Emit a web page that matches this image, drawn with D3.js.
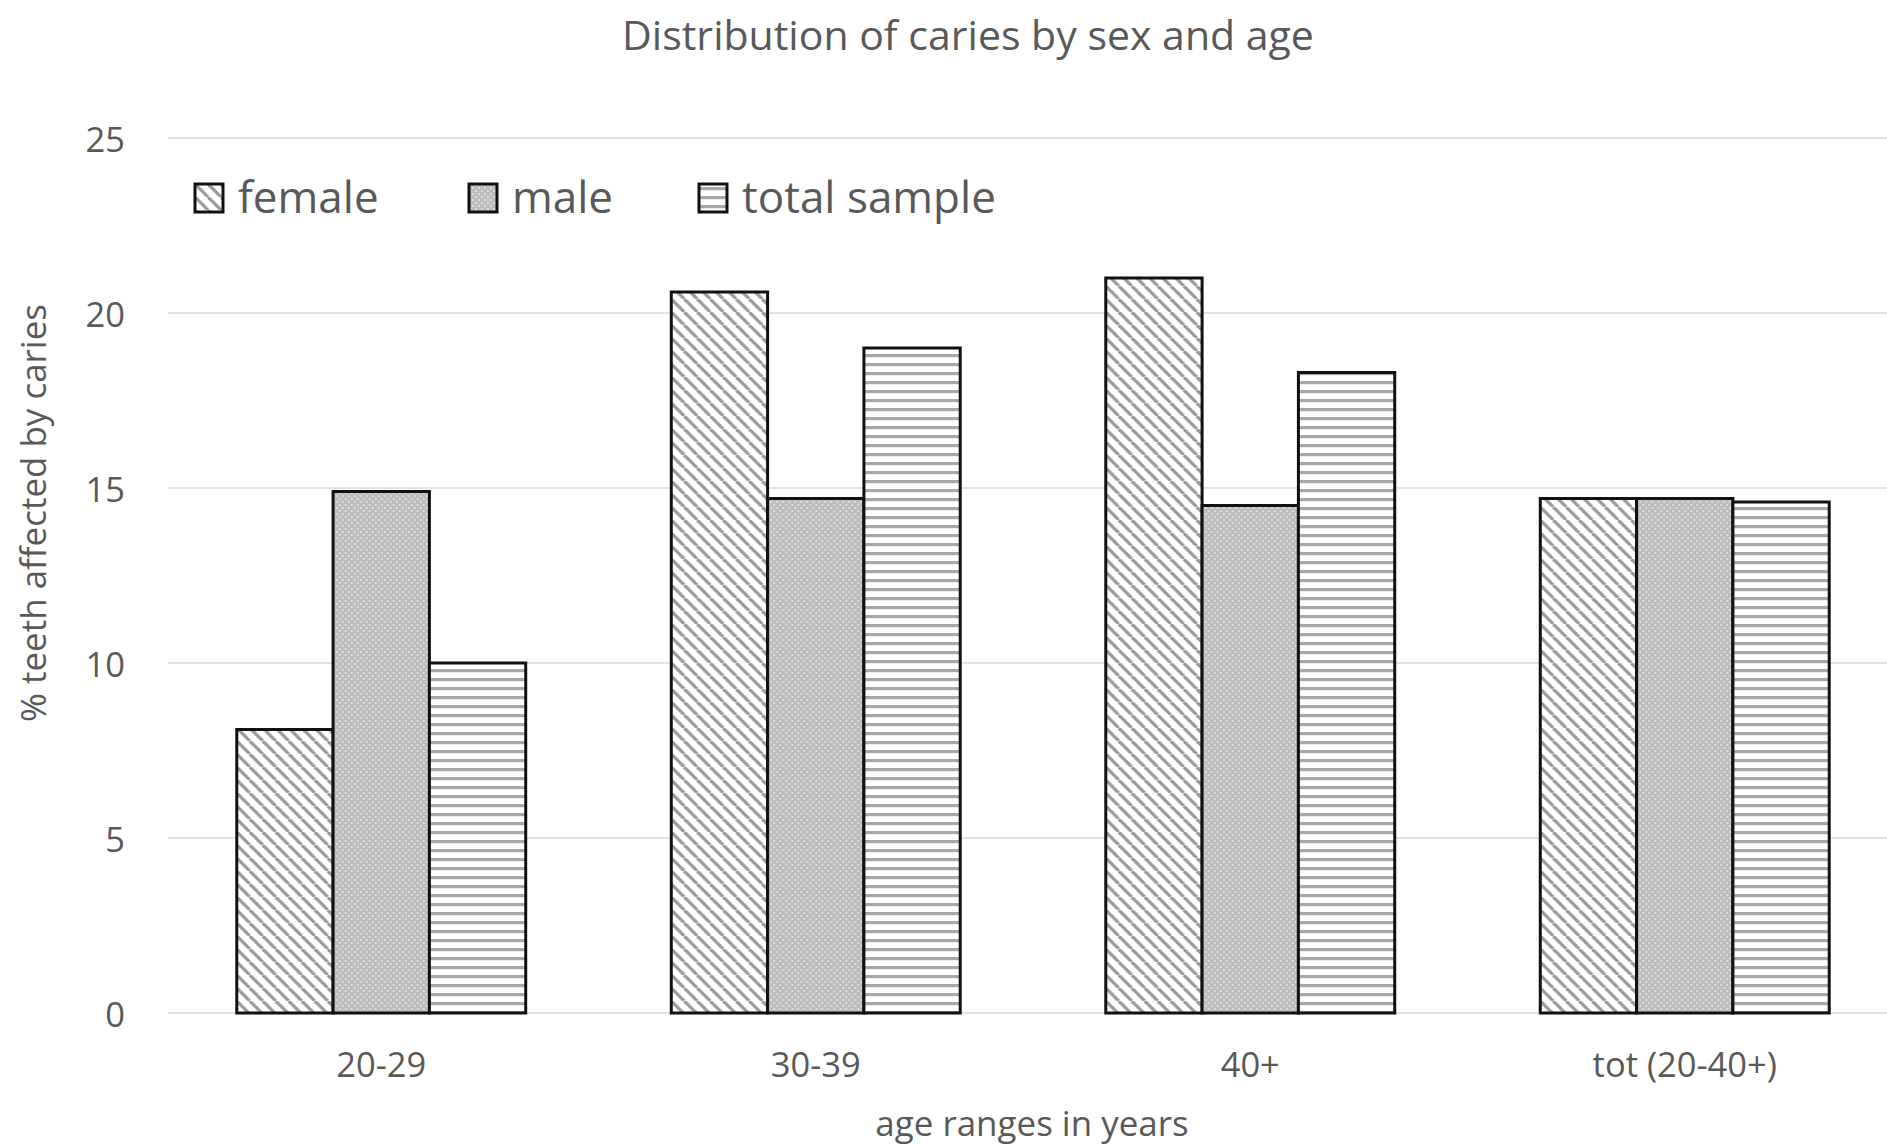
<!DOCTYPE html>
<html>
<head>
<meta charset="utf-8">
<script src="https://cdn.jsdelivr.net/npm/d3@7"></script>
<style>
  html, body { margin: 0; padding: 0; background: #fff; }
  svg { display: block; }
  text { font-family: "Open Sans", "DejaVu Sans", sans-serif; fill: #595959; }
</style>
</head>
<body>
<svg id="chart" width="1887" height="1146"></svg>
<script>
// ---- data ----
const categories = ["20-29", "30-39", "40+", "tot (20-40+)"];
const seriesNames = ["female", "male", "total sample"];
const female = [8.1, 20.6, 21.0, 14.7];
const male = [14.9, 14.7, 14.5, 14.7];
const totalSample = [10.0, 19.0, 18.3, 14.6];
const yTicks = [0, 5, 10, 15, 20, 25];
const titleText = "Distribution of caries by sex and age";
const xTitleText = "age ranges in years";
const yTitleText = "% teeth affected by caries";

const seriesValues = [female, male, totalSample];
const rows = categories.map((c, i) => ({
  cat: c,
  vals: seriesNames.map((s, j) => ({ series: s, idx: j, value: seriesValues[j][i] }))
}));

// ---- layout ----
const W = 1887, H = 1146;
const svg = d3.select("#chart");

const x = d3.scaleBand().domain(categories).range([164, 1902]).paddingInner(0.335).paddingOuter(0.1675);
const x1 = d3.scaleBand().domain(seriesNames).range([0, x.bandwidth()]).padding(0);
const y = d3.scaleLinear().domain([0, 25]).range([1013, 138]);

// ---- patterns ----
const defs = svg.append("defs");
const pF = defs.append("pattern").attr("id", "pat0").attr("patternUnits", "userSpaceOnUse")
  .attr("width", 13).attr("height", 13);
pF.append("rect").attr("width", 13).attr("height", 13).attr("fill", "#ffffff");
[-13, 0, 13].forEach(dx => {
  pF.append("line").attr("x1", dx).attr("y1", 0).attr("x2", dx + 13).attr("y2", 13)
    .attr("stroke", "#9a9a9a").attr("stroke-width", 3.2);
});

const pM = defs.append("pattern").attr("id", "pat1").attr("patternUnits", "userSpaceOnUse")
  .attr("width", 6).attr("height", 6);
pM.append("rect").attr("width", 6).attr("height", 6).attr("fill", "#bdbdbd");
pM.append("rect").attr("x", 0).attr("y", 0).attr("width", 2).attr("height", 2).attr("fill", "#dcdcdc");
pM.append("rect").attr("x", 3).attr("y", 3).attr("width", 2).attr("height", 2).attr("fill", "#dcdcdc");

const pT = defs.append("pattern").attr("id", "pat2").attr("patternUnits", "userSpaceOnUse")
  .attr("width", 9).attr("height", 9);
pT.append("rect").attr("width", 9).attr("height", 9).attr("fill", "#ffffff");
pT.append("rect").attr("x", 0).attr("y", 3).attr("width", 9).attr("height", 3.2).attr("fill", "#a8a8a8");

// ---- text size fitting helper ----
function fitSize(text, target) {
  const t = svg.append("text").attr("font-size", 100).text(text);
  const w = t.node().getComputedTextLength();
  t.remove();
  return 100 * target / w;
}
const titleSize = fitSize(titleText, 692);
const tickSize = fitSize("20-29", 90);
const axisTitleSize = fitSize(yTitleText, 418);
const legendSize = fitSize("total sample", 254);

// ---- gridlines ----
svg.append("g").selectAll("line").data(yTicks).join("line")
  .attr("x1", 168).attr("x2", W)
  .attr("y1", d => y(d)).attr("y2", d => y(d))
  .attr("stroke", "#d9d9d9").attr("stroke-width", 1.6);

// ---- y tick labels ----
svg.append("g").selectAll("text").data(yTicks).join("text")
  .attr("x", 125).attr("y", d => y(d) + 2).attr("dy", "0.35em")
  .attr("text-anchor", "end").attr("font-size", tickSize)
  .text(d => d);

// ---- bars ----
const groups = svg.append("g").selectAll("g").data(rows).join("g")
  .attr("transform", d => `translate(${x(d.cat)},0)`);
groups.selectAll("rect").data(d => d.vals).join("rect")
  .attr("x", d => x1(d.series))
  .attr("width", x1.bandwidth())
  .attr("y", d => y(d.value))
  .attr("height", d => y(0) - y(d.value))
  .attr("fill", d => `url(#pat${d.idx})`)
  .attr("stroke", "#111111").attr("stroke-width", 3);

// ---- x tick labels ----
svg.append("g").selectAll("text").data(categories).join("text")
  .attr("x", d => x(d) + x.bandwidth() / 2).attr("y", 1065).attr("dy", "0.35em")
  .attr("text-anchor", "middle").attr("font-size", tickSize)
  .text(d => d);

// ---- titles ----
svg.append("text").attr("x", 968).attr("y", 36).attr("dy", "0.35em")
  .attr("text-anchor", "middle").attr("font-size", titleSize).text(titleText);
svg.append("text").attr("x", 1032).attr("y", 1124).attr("dy", "0.35em")
  .attr("text-anchor", "middle").attr("font-size", axisTitleSize).text(xTitleText);
svg.append("text").attr("transform", "translate(34,513) rotate(-90)").attr("dy", "0.35em")
  .attr("text-anchor", "middle").attr("font-size", axisTitleSize).text(yTitleText);

// ---- legend ----
const legendX = [195, 469, 699];
const leg = svg.append("g").selectAll("g").data(seriesNames).join("g")
  .attr("transform", (d, i) => `translate(${legendX[i]},184)`);
leg.append("rect").attr("width", 28).attr("height", 28)
  .attr("fill", (d, i) => `url(#pat${i})`)
  .attr("stroke", "#111111").attr("stroke-width", 3);
leg.append("text").attr("x", 43).attr("y", 14).attr("dy", "0.35em")
  .attr("font-size", legendSize).text(d => d);
</script>
</body>
</html>
